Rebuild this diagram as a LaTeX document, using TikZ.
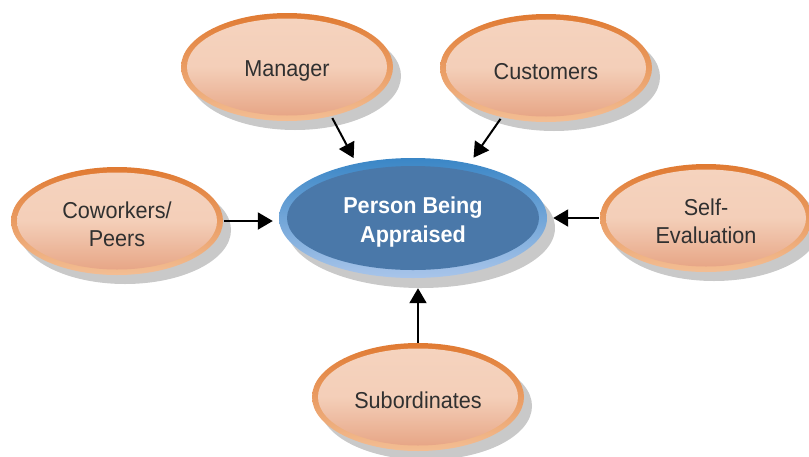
\documentclass[tikz,border=0pt]{standalone}
\usepackage{fontspec}
\setmainfont{Liberation Sans}[FakeStretch=0.94]
\usetikzlibrary{shapes.geometric,shadows,arrows.meta}
\definecolor{orbtop}{HTML}{E07A32}
\definecolor{orbbot}{HTML}{F3BE94}
\definecolor{orftop}{HTML}{F5D3BE}
\definecolor{orfbot}{HTML}{E7A686}
\definecolor{bltop}{HTML}{3A86C6}
\definecolor{blbot}{HTML}{A9C5EA}
\definecolor{blfill}{HTML}{4A78A9}
\definecolor{shad}{HTML}{C9C9C9}
\definecolor{txt}{HTML}{303030}
\tikzset{
  ring/.style={ellipse, inner sep=0pt, minimum width=212pt, minimum height=108pt,
    top color=orbtop, bottom color=orbbot,
    drop shadow={shadow xshift=8pt, shadow yshift=-9pt, fill=shad, opacity=1}},
  core/.style={ellipse, inner sep=0pt, minimum width=200pt, minimum height=97pt,
    top color=orftop, bottom color=orfbot, middle color=orftop!90!orfbot},
  lbl/.style={text=txt, align=center, inner sep=0pt, font=\fontsize{23}{28}\selectfont},
  bring/.style={ellipse, inner sep=0pt, minimum width=268pt, minimum height=120pt,
    top color=bltop, bottom color=blbot,
    drop shadow={shadow xshift=8pt, shadow yshift=-10pt, fill=shad, opacity=1}},
  bcore/.style={ellipse, inner sep=0pt, minimum width=252pt, minimum height=104pt,
    fill=blfill},
  blbl/.style={text=white, align=center, inner sep=0pt, font=\bfseries\fontsize{23}{29}\selectfont},
  arr/.style={line width=2pt, -{Triangle[length=15pt,width=17pt]}}
}
\begin{document}
\begin{tikzpicture}[x=1pt,y=-1pt]
\useasboundingbox (0,0) rectangle (809,456);
% center
\node[bring] (pr) at (413,218) {};
\node[bcore] (p) at (pr.center) {};
\node[blbl] (pt) at ([yshift=-4pt]pr.center) {Person Being\\Appraised};
% outer
\node[ring] (mr) at (287,67) {};
\node[core] (m) at (mr.center) {};
\node[lbl] (mt) at ([yshift=-4pt]mr.center) {Manager};
\node[ring] (cr) at (546,68) {};
\node[core] (c) at (cr.center) {};
\node[lbl] (ct) at ([yshift=-4pt]cr.center) {Customers};
\node[ring] (wr) at (117,221) {};
\node[core] (w) at (wr.center) {};
\node[lbl] (wt) at ([yshift=-3pt]wr.center) {Coworkers/\\Peers};
\node[ring] (sr) at (706,218) {};
\node[core] (s) at (sr.center) {};
\node[lbl] (st) at ([yshift=-3pt]sr.center) {Self-\\Evaluation};
\node[ring] (br) at (418,397) {};
\node[core] (b) at (br.center) {};
\node[lbl] (bt) at ([yshift=-3pt]br.center) {Subordinates};
% arrows
\draw[arr, shorten <=2pt, shorten >=6pt] (mr.-48) -- (pr.136);
\draw[arr, shorten <=2pt, shorten >=7pt] (cr.-132) -- (pr.44);
\draw[arr, shorten <=1pt, shorten >=6pt] (wr.east) -- (pr.west |- wr.east);
\draw[arr, shorten <=1pt, shorten >=6pt] (sr.west) -- (pr.east |- sr.west);
\draw[arr, shorten >=10pt] (br.north) -- (br.north |- pr.south);
\end{tikzpicture}
\end{document}
